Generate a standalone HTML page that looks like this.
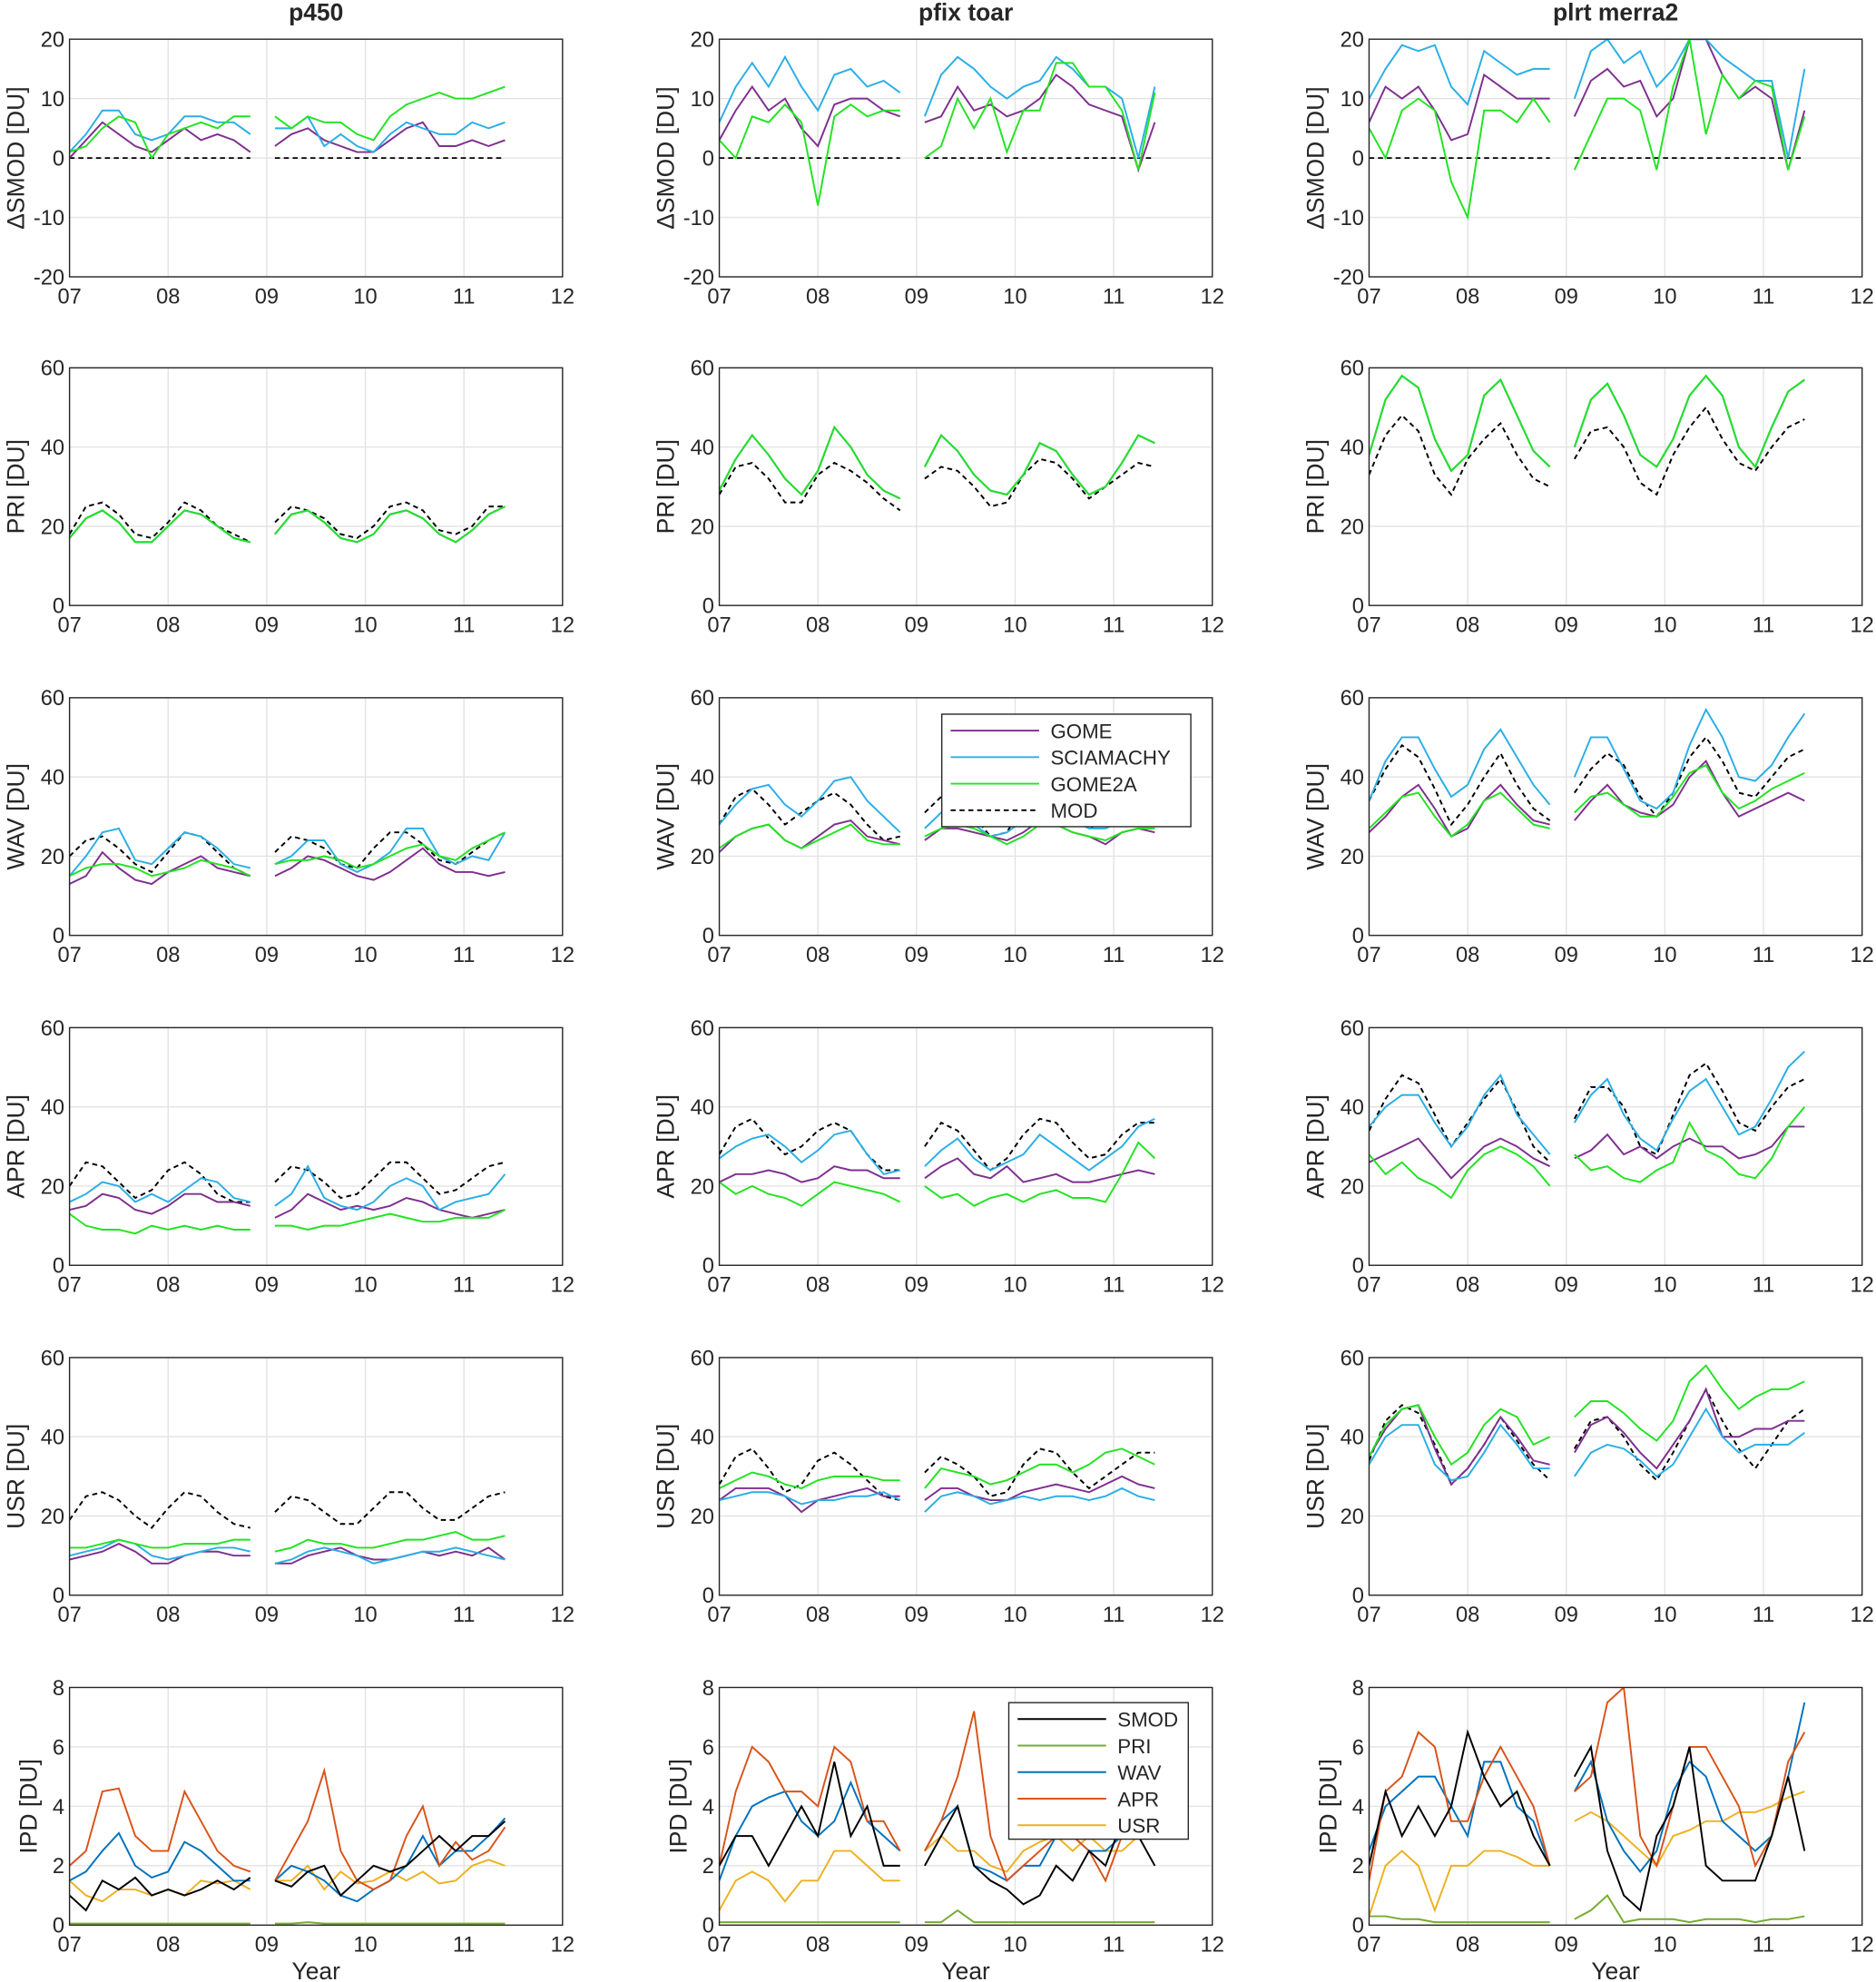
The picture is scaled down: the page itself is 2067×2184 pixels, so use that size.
<!DOCTYPE html>
<html><head><meta charset="utf-8"><style>
body{margin:0;background:#fff}
svg{display:block}
text{font-family:"Liberation Sans",sans-serif;fill:#262626}
</style></head><body>
<svg id="chart" width="2067" height="2184" viewBox="0 0 1484 1568" xmlns="http://www.w3.org/2000/svg"></svg>
<script>
// months since Jan 2007 for each sample (two segments)
const months1 = [0,2,4,6,8,10,12,14,16,18,20,22];
const months2 = [25,27,29,31,33,35,37,39,41,43,45,47,49,51,53];
const xTickLabels = ["07","08","09","10","11","12"];
const colTitles = ["p450","pfix toar","plrt merra2"];
const rowLabels = ["\u0394SMOD [DU]","PRI [DU]","WAV [DU]","APR [DU]","USR [DU]","IPD [DU]"];
const smodTicks = [-20,-10,0,10,20];
const duTicks = [0,20,40,60];
const ipdTicks = [0,2,4,6,8];
const satNames = ["GOME","SCIAMACHY","GOME2A","MOD"];
const ipdNames = ["SMOD","PRI","WAV","APR","USR"];

// ---- column 1 (p450)
const c1_smod_gome = [0,3,6,4,2,1,3,5,3,4,3,1, 2,4,5,3,2,1,1,3,5,6,2,2,3,2,3];
const c1_smod_scia = [1,4,8,8,4,3,4,7,7,6,6,4, 5,5,7,2,4,2,1,4,6,5,4,4,6,5,6];
const c1_smod_g2a  = [1,2,5,7,6,0,4,5,6,5,7,7, 7,5,7,6,6,4,3,7,9,10,11,10,10,11,12];
const c1_pri_mod   = [18,25,26,23,18,17,21,26,24,20,18,16, 21,25,24,22,18,17,20,25,26,24,19,18,20,25,25];
const c1_pri_sat   = [17,22,24,21,16,16,20,24,23,20,17,16, 18,23,24,21,17,16,18,23,24,22,18,16,19,23,25];
const c1_wav_mod   = [20,24,25,22,18,16,21,26,25,21,17,15, 21,25,24,22,18,17,22,26,26,23,19,18,21,24,26];
const c1_wav_gome  = [13,15,21,17,14,13,16,18,20,17,16,15, 15,17,20,19,17,15,14,16,19,22,18,16,16,15,16];
const c1_wav_scia  = [15,20,26,27,19,18,22,26,25,22,18,17, 18,20,24,24,18,16,18,21,27,27,20,18,20,19,26];
const c1_wav_g2a   = [15,17,18,18,17,15,16,17,19,18,17,15, 18,19,19,20,19,17,18,20,22,23,20,19,22,24,26];
const c1_apr_mod   = [20,26,25,21,17,19,24,26,23,18,16,16, 21,25,24,21,17,18,22,26,26,22,18,19,22,25,26];
const c1_apr_gome  = [14,15,18,17,14,13,15,18,18,16,16,15, 12,14,18,16,14,15,14,15,17,16,14,13,12,13,14];
const c1_apr_scia  = [16,18,21,20,16,18,16,19,22,21,17,16, 15,18,25,17,15,14,16,20,22,20,14,16,17,18,23];
const c1_apr_g2a   = [13,10,9,9,8,10,9,10,9,10,9,9, 10,10,9,10,10,11,12,13,12,11,11,12,12,12,14];
const c1_usr_mod   = [19,25,26,24,20,17,22,26,25,21,18,17, 21,25,24,21,18,18,22,26,26,22,19,19,22,25,26];
const c1_usr_gome  = [9,10,11,13,11,8,8,10,11,11,10,10, 8,8,10,11,12,10,9,9,10,11,10,11,10,12,9];
const c1_usr_scia  = [10,11,12,14,13,10,9,10,11,12,12,11, 8,9,11,12,11,10,8,9,10,11,11,12,11,10,9];
const c1_usr_g2a   = [12,12,13,14,13,12,12,13,13,13,14,14, 11,12,14,13,13,12,12,13,14,14,15,16,14,14,15];
const c1_ipd_smod  = [1,0.5,1.5,1.2,1.6,1,1.2,1,1.2,1.5,1.2,1.6, 1.5,1.3,1.8,2,1,1.5,2,1.8,2,2.5,3,2.5,3,3,3.5];
const c1_ipd_pri   = [0.05,0.05,0.05,0.05,0.05,0.05,0.05,0.05,0.05,0.05,0.05,0.05, 0.05,0.05,0.1,0.05,0.05,0.05,0.05,0.05,0.05,0.05,0.05,0.05,0.05,0.05,0.05];
const c1_ipd_wav   = [1.5,1.8,2.5,3.1,2,1.6,1.8,2.8,2.5,2,1.5,1.5, 1.5,2,1.8,1.5,1,0.8,1.2,1.5,2,3,2,2.5,2.5,3,3.6];
const c1_ipd_apr   = [2,2.5,4.5,4.6,3,2.5,2.5,4.5,3.5,2.5,2,1.8, 1.5,2.5,3.5,5.2,2.5,1.5,1.2,1.5,3,4,2,2.8,2.2,2.5,3.3];
const c1_ipd_usr   = [1.5,1,0.8,1.2,1.2,1,1.2,1,1.5,1.4,1.5,1.2, 1.5,1.5,2,1.2,1.8,1.4,1.5,1.8,1.5,1.8,1.4,1.5,2,2.2,2];

// ---- column 2 (pfix toar)
const c2_smod_gome = [3,8,12,8,10,5,2,9,10,10,8,7, 6,7,12,8,9,7,8,10,14,12,9,8,7,-2,6];
const c2_smod_scia = [6,12,16,12,17,12,8,14,15,12,13,11, 7,14,17,15,12,10,12,13,17,15,12,12,10,0,12];
const c2_smod_g2a  = [3,0,7,6,9,6,-8,7,9,7,8,8, 0,2,10,5,10,1,8,8,16,16,12,12,8,-2,11];
const c2_pri_mod   = [28,35,36,32,26,26,33,36,34,31,27,24, 32,35,34,30,25,26,33,37,36,32,27,30,33,36,35];
const c2_pri_sat   = [29,37,43,38,32,28,34,45,40,33,29,27, 35,43,39,33,29,28,33,41,39,33,28,30,36,43,41];
const c2_wav_mod   = [28,35,37,33,28,31,34,36,33,28,24,25, 31,35,33,30,25,26,33,36,35,31,27,29,33,36,35];
const c2_wav_gome  = [21,25,27,28,24,22,25,28,29,25,24,23, 24,27,27,26,25,24,26,29,28,26,25,23,26,27,26];
const c2_wav_scia  = [28,33,37,38,33,30,34,39,40,34,30,26, 27,31,30,28,25,26,29,31,31,29,27,27,29,30,28];
const c2_wav_g2a   = [22,25,27,28,24,22,24,26,28,24,23,23, 25,27,28,27,25,23,25,28,28,26,25,24,26,27,27];
const c2_apr_mod   = [28,35,37,32,28,30,34,36,34,28,24,24, 30,36,34,29,24,27,33,37,36,31,27,28,33,36,36];
const c2_apr_gome  = [21,23,23,24,23,21,22,25,24,24,22,22, 22,25,27,23,22,25,21,22,23,21,21,22,23,24,23];
const c2_apr_scia  = [27,30,32,33,30,26,29,33,34,28,23,24, 25,29,32,27,24,26,28,33,30,27,24,27,30,35,37];
const c2_apr_g2a   = [21,18,20,18,17,15,18,21,20,19,18,16, 20,17,18,15,17,18,16,18,19,17,17,16,23,31,27];
const c2_usr_mod   = [28,35,37,32,26,28,34,36,33,29,25,24, 31,35,33,30,25,26,33,37,36,31,27,30,33,36,36];
const c2_usr_gome  = [24,27,27,27,25,21,24,25,26,27,25,25, 24,27,27,25,24,24,26,27,28,27,26,28,30,28,27];
const c2_usr_scia  = [24,25,26,26,25,23,24,24,25,25,26,24, 21,25,26,25,23,24,25,24,25,25,24,25,27,25,24];
const c2_usr_g2a   = [27,29,31,30,28,27,29,30,30,30,29,29, 27,32,31,30,28,29,31,33,33,31,33,36,37,35,33];
const c2_ipd_smod  = [2,3,3,2,3,4,3,5.5,3,4,2,2, 2,3,4,2,1.5,1.2,0.7,1,2,1.5,2.5,2,3.5,3,2];
const c2_ipd_pri   = [0.1,0.1,0.1,0.1,0.1,0.1,0.1,0.1,0.1,0.1,0.1,0.1, 0.1,0.1,0.5,0.1,0.1,0.1,0.1,0.1,0.1,0.1,0.1,0.1,0.1,0.1,0.1];
const c2_ipd_wav   = [1.5,3,4,4.3,4.5,3.5,3,3.5,4.8,3.5,3,2.5, 2.5,3.5,4,2,1.8,1.5,2,2,3,3,2.5,2.5,3,3.5,3.5];
const c2_ipd_apr   = [2,4.5,6,5.5,4.5,4.5,4,6,5.5,3.5,3.5,2.5, 2.5,3.5,5,7.2,3,1.5,2,2.5,3,3,2.5,1.5,3,3.5,4];
const c2_ipd_usr   = [0.5,1.5,1.8,1.5,0.8,1.5,1.5,2.5,2.5,2,1.5,1.5, 2.5,3,2.5,2.5,2,1.8,2.5,2.8,3,2.5,3,2.5,2.5,3,3.2];

// ---- column 3 (plrt merra2)
const c3_smod_gome = [6,12,10,12,8,3,4,14,12,10,10,10, 7,13,15,12,13,7,10,20,20,14,10,12,10,-2,8];
const c3_smod_scia = [10,15,19,18,19,12,9,18,16,14,15,15, 10,18,20,16,18,12,15,20,20,17,15,13,13,0,15];
const c3_smod_g2a  = [5,0,8,10,8,-4,-10,8,8,6,10,6, -2,4,10,10,8,-2,12,20,4,14,10,13,12,-2,7];
const c3_pri_mod   = [33,43,48,44,33,28,37,42,46,38,32,30, 37,44,45,40,31,28,38,45,50,42,36,34,40,45,47];
const c3_pri_sat   = [38,52,58,55,42,34,38,53,57,48,39,35, 40,52,56,48,38,35,42,53,58,53,40,35,45,54,57];
const c3_wav_mod   = [34,42,48,45,37,28,33,40,46,38,32,29, 36,42,46,43,35,30,36,45,50,44,36,35,40,45,47];
const c3_wav_gome  = [26,30,35,38,32,25,27,34,38,33,29,28, 29,34,38,33,31,30,33,40,44,36,30,32,34,36,34];
const c3_wav_scia  = [34,44,50,50,42,35,38,47,52,45,38,33, 40,50,50,42,34,32,36,48,57,50,40,39,43,50,56];
const c3_wav_g2a   = [27,31,35,36,30,25,28,34,36,32,28,27, 31,35,36,33,30,30,35,41,43,36,32,34,37,39,41];
const c3_apr_mod   = [34,42,48,46,38,30,36,42,47,39,30,26, 37,45,45,40,30,28,38,48,51,44,36,34,40,45,47];
const c3_apr_gome  = [26,28,30,32,27,22,26,30,32,30,27,25, 27,29,33,28,30,27,30,32,30,30,27,28,30,35,35];
const c3_apr_scia  = [35,40,43,43,36,30,35,43,48,38,33,28, 36,43,47,38,32,29,37,44,47,40,33,35,42,50,54];
const c3_apr_g2a   = [28,23,26,22,20,17,24,28,30,28,25,20, 28,24,25,22,21,24,26,36,29,27,23,22,27,35,40];
const c3_usr_mod   = [34,44,48,46,38,28,32,38,45,39,33,29, 37,44,45,40,33,29,36,44,52,44,37,32,38,44,47];
const c3_usr_gome  = [35,42,47,48,37,28,32,38,45,40,34,33, 36,43,45,41,36,32,38,44,52,40,40,42,42,44,44];
const c3_usr_scia  = [33,40,43,43,33,29,30,36,43,38,32,32, 30,36,38,37,34,30,33,40,47,40,36,38,38,38,41];
const c3_usr_g2a   = [35,43,47,48,40,33,36,43,47,45,38,40, 45,49,49,46,42,39,44,54,58,52,47,50,52,52,54];
const c3_ipd_smod  = [2,4.5,3,4,3,4,6.5,5,4,4.5,3,2, 5,6,2.5,1,0.5,3,4,6,2,1.5,1.5,1.5,3,5,2.5];
const c3_ipd_pri   = [0.3,0.3,0.2,0.2,0.1,0.1,0.1,0.1,0.1,0.1,0.1,0.1, 0.2,0.5,1,0.1,0.2,0.2,0.2,0.1,0.2,0.2,0.2,0.1,0.2,0.2,0.3];
const c3_ipd_wav   = [2.5,4,4.5,5,5,4,3,5.5,5.5,4,3.5,2, 4.5,5.5,3.5,2.5,1.8,2.5,4.5,5.5,5,3.5,3,2.5,3,5,7.5];
const c3_ipd_apr   = [1.5,4.5,5,6.5,6,3.5,3.5,5,6,5,4,2, 4.5,5,7.5,8,3,2,4,6,6,5,4,2,3,5.5,6.5];
const c3_ipd_usr   = [0.3,2,2.5,2,0.5,2,2,2.5,2.5,2.3,2,2, 3.5,3.8,3.5,3,2.5,2,3,3.2,3.5,3.5,3.8,3.8,4,4.3,4.5];

const COL = {gome:"#7e2f8e", scia:"#2aaee6", g2a:"#22e322", mod:"#000",
  smod:"#000", pri:"#77ac30", wav:"#0072bd", apr:"#d95319", usr:"#edb120"};

const svg = document.getElementById('chart');
const NS = "http://www.w3.org/2000/svg";
function mk(tag, attrs, parent){const e=document.createElementNS(NS,tag);for(const k in attrs)e.setAttribute(k,attrs[k]);(parent||svg).appendChild(e);return e;}

const colX = [55, 569, 1083];
const W = 390;
const rowY = [31, 291, 552, 813, 1074, 1335];
const H = 188;

const panels = [
 [ {ticks:smodTicks, zero:true, s:[[c1_smod_gome,'gome'],[c1_smod_scia,'scia'],[c1_smod_g2a,'g2a']]},
   {ticks:duTicks, s:[[c1_pri_mod,'mod'],[c1_pri_sat,'gome'],[c1_pri_sat,'scia'],[c1_pri_sat,'g2a']]},
   {ticks:duTicks, s:[[c1_wav_mod,'mod'],[c1_wav_gome,'gome'],[c1_wav_scia,'scia'],[c1_wav_g2a,'g2a']]},
   {ticks:duTicks, s:[[c1_apr_mod,'mod'],[c1_apr_gome,'gome'],[c1_apr_scia,'scia'],[c1_apr_g2a,'g2a']]},
   {ticks:duTicks, s:[[c1_usr_mod,'mod'],[c1_usr_gome,'gome'],[c1_usr_scia,'scia'],[c1_usr_g2a,'g2a']]},
   {ticks:ipdTicks, s:[[c1_ipd_pri,'pri'],[c1_ipd_usr,'usr'],[c1_ipd_wav,'wav'],[c1_ipd_apr,'apr'],[c1_ipd_smod,'smod']]} ],
 [ {ticks:smodTicks, zero:true, s:[[c2_smod_gome,'gome'],[c2_smod_scia,'scia'],[c2_smod_g2a,'g2a']]},
   {ticks:duTicks, s:[[c2_pri_mod,'mod'],[c2_pri_sat,'gome'],[c2_pri_sat,'scia'],[c2_pri_sat,'g2a']]},
   {ticks:duTicks, legend:'sat', s:[[c2_wav_mod,'mod'],[c2_wav_gome,'gome'],[c2_wav_scia,'scia'],[c2_wav_g2a,'g2a']]},
   {ticks:duTicks, s:[[c2_apr_mod,'mod'],[c2_apr_gome,'gome'],[c2_apr_scia,'scia'],[c2_apr_g2a,'g2a']]},
   {ticks:duTicks, s:[[c2_usr_mod,'mod'],[c2_usr_gome,'gome'],[c2_usr_scia,'scia'],[c2_usr_g2a,'g2a']]},
   {ticks:ipdTicks, legend:'ipd', s:[[c2_ipd_pri,'pri'],[c2_ipd_usr,'usr'],[c2_ipd_wav,'wav'],[c2_ipd_apr,'apr'],[c2_ipd_smod,'smod']]} ],
 [ {ticks:smodTicks, zero:true, s:[[c3_smod_gome,'gome'],[c3_smod_scia,'scia'],[c3_smod_g2a,'g2a']]},
   {ticks:duTicks, s:[[c3_pri_mod,'mod'],[c3_pri_sat,'gome'],[c3_pri_sat,'scia'],[c3_pri_sat,'g2a']]},
   {ticks:duTicks, s:[[c3_wav_mod,'mod'],[c3_wav_gome,'gome'],[c3_wav_scia,'scia'],[c3_wav_g2a,'g2a']]},
   {ticks:duTicks, s:[[c3_apr_mod,'mod'],[c3_apr_gome,'gome'],[c3_apr_scia,'scia'],[c3_apr_g2a,'g2a']]},
   {ticks:duTicks, s:[[c3_usr_mod,'mod'],[c3_usr_gome,'gome'],[c3_usr_scia,'scia'],[c3_usr_g2a,'g2a']]},
   {ticks:ipdTicks, s:[[c3_ipd_pri,'pri'],[c3_ipd_usr,'usr'],[c3_ipd_wav,'wav'],[c3_ipd_apr,'apr'],[c3_ipd_smod,'smod']]} ]
];
const rowKeys = ['smod','pri','wav','apr','usr','ipd'];

colTitles.forEach((t,c)=>{
  const e=mk('text',{x:colX[c]+W/2,y:16,'text-anchor':'middle','font-size':19,'font-weight':'bold'});
  e.textContent=t;
  
  
});

panels.forEach((col,c)=>col.forEach((p,r)=>{
  const x0=colX[c], y0=rowY[r];
  const g=mk('g',{});
  
  
  const ymin=p.ticks[0], ymax=p.ticks[p.ticks.length-1];
  const sx=m=>x0+m/60*W;
  const sy=v=>y0+H-(v-ymin)/(ymax-ymin)*H;
  mk('rect',{x:x0,y:y0,width:W,height:H,fill:'#fff'},g);
  // grid
  for(let i=0;i<xTickLabels.length;i++){
    const x=sx(i*12);
    mk('line',{x1:x,x2:x,y1:y0,y2:y0+H,stroke:'#e3e3e3','stroke-width':1},g);
    const t=mk('text',{x:x,y:y0+H+21,'text-anchor':'middle','font-size':17},g);
    t.textContent=xTickLabels[i];
  }
  p.ticks.forEach(v=>{
    const y=sy(v);
    mk('line',{x1:x0,x2:x0+W,y1:y,y2:y,stroke:'#e3e3e3','stroke-width':1},g);
    const t=mk('text',{x:x0-4,y:y+6,'text-anchor':'end','font-size':17},g);
    t.textContent=v;
  });
  const clipId='clip'+c+'_'+r;
  const cp=mk('clipPath',{id:clipId},g);
  mk('rect',{x:x0,y:y0,width:W,height:H},cp);
  const lg=mk('g',{'clip-path':'url(#'+clipId+')'},g);
  if(p.zero){
    [[0,22],[25,53]].forEach(seg=>{
      const l=mk('line',{x1:sx(seg[0]),x2:sx(seg[1]),y1:sy(0),y2:sy(0),stroke:'#000','stroke-width':1.2,'stroke-dasharray':'4,3'},lg);
      
      
    });
  }
  p.s.forEach(([arr,key])=>{
    [[months1,0],[months2,months1.length]].forEach(([ms,off])=>{
      const pts=ms.map((m,i)=>sx(m).toFixed(1)+','+sy(arr[off+i]).toFixed(1)).join(' ');
      const a={points:pts,fill:'none',stroke:COL[key],'stroke-width':1.4};
      if(key==='mod')a['stroke-dasharray']='4,3';
      const pl=mk('polyline',a,lg);
      
      
    });
  });
  mk('rect',{x:x0,y:y0,width:W,height:H,fill:'none',stroke:'#262626','stroke-width':1},g);
  const yl=mk('text',{x:0,y:0,'text-anchor':'middle','font-size':19,transform:`translate(${x0-(r===5?26:36)},${y0+H/2}) rotate(-90)`},g);
  yl.textContent=rowLabels[r];
  
  
  if(r===5){
    const xl=mk('text',{x:x0+W/2,y:1566,'text-anchor':'middle','font-size':19},g);
    xl.textContent='Year';
    
    
  }
  if(p.legend){
    const isSat=p.legend==='sat';
    const bx=isSat?745:798, by=isSat?565:1347, bw=isSat?197:142, bh=isSat?89:108;
    const names=isSat?satNames:ipdNames;
    const keys=isSat?['gome','scia','g2a','mod']:['smod','pri','wav','apr','usr'];
    const lgd=mk('g',{},g);
    
    
    mk('rect',{x:bx,y:by,width:bw,height:bh,fill:'#fff',stroke:'#262626','stroke-width':1},lgd);
    names.forEach((n,i)=>{
      const yy=by+13+i*21;
      const la={x1:bx+7,x2:bx+77,y1:yy,y2:yy,stroke:COL[keys[i]],'stroke-width':1.4};
      if(keys[i]==='mod')la['stroke-dasharray']='4,3';
      mk('line',la,lgd);
      const t=mk('text',{x:bx+86,y:yy+6,'font-size':16},lgd);
      t.textContent=n;
      
      
    });
  }
}));
</script>
</body></html>
